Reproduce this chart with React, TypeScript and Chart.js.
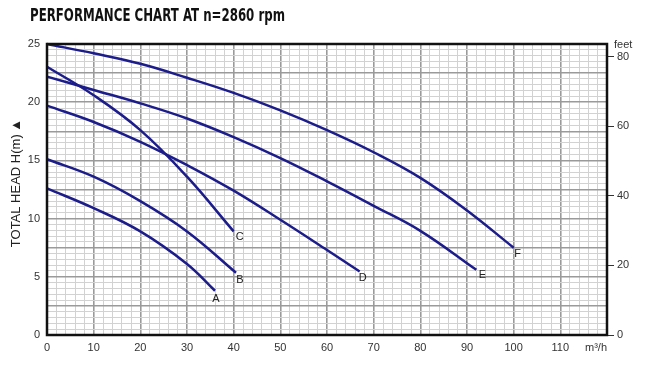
import React, { useEffect, useRef } from "react";
import { Chart, registerables } from "chart.js";

Chart.register(...registerables);

// ---- data ----
const CURVE_NAMES = ["A", "B", "C", "D", "E", "F"];
const A_FLOW = [0, 10, 20, 30, 36];
const A_HEAD = [12.6, 10.9, 8.9, 6.1, 3.8];
const B_FLOW = [0, 10, 20, 30, 40.5];
const B_HEAD = [15.1, 13.6, 11.5, 8.9, 5.35];
const C_FLOW = [0, 10, 20, 30, 40];
const C_HEAD = [23.05, 20.6, 17.6, 13.6, 8.9];
const D_FLOW = [0, 10, 20, 30, 40, 50, 60, 67];
const D_HEAD = [19.7, 18.3, 16.6, 14.6, 12.4, 9.9, 7.3, 5.45];
const E_FLOW = [0, 10, 20, 30, 40, 50, 60, 70, 80, 92];
const E_HEAD = [22.2, 21.05, 19.9, 18.6, 17.0, 15.2, 13.2, 11.1, 8.95, 5.6];
const F_FLOW = [0, 10, 20, 30, 40, 50, 60, 70, 80, 90, 100];
const F_HEAD = [25, 24.2, 23.3, 22.1, 20.8, 19.3, 17.6, 15.7, 13.5, 10.7, 7.5];

const X_LABELS = [0, 10, 20, 30, 40, 50, 60, 70, 80, 90, 100, 110];
const Y_LABELS = [0, 5, 10, 15, 20, 25];
const FEET_LABELS = [0, 20, 40, 60, 80];

const TITLE = "PERFORMANCE CHART AT n=2860 rpm";
const Y_TITLE = "TOTAL HEAD H(m)\u2009\u25B2";
const FEET_TITLE = "feet";
const X_UNIT = "m\u00B3/h";

// ---- styles ----
const LINE_COLOR = "#1c1c8a";
const LABEL_OFFSETS = [
  [1, 8],
  [4, 7],
  [6, 6],
  [3, 6],
  [6, 5],
  [4, 6],
];

const FLOWS = [A_FLOW, B_FLOW, C_FLOW, D_FLOW, E_FLOW, F_FLOW];
const HEADS = [A_HEAD, B_HEAD, C_HEAD, D_HEAD, E_HEAD, F_HEAD];

const isMult = (v: number, s: number) => Math.abs(v / s - Math.round(v / s)) < 1e-6;

const decor = {
  id: "decor",
  beforeDraw(chart: any) {
    const ctx = chart.ctx;
    ctx.save();
    ctx.fillStyle = "#fff";
    ctx.fillRect(0, 0, chart.width, chart.height);
    ctx.restore();
  },
  afterDraw(chart: any) {
    const ctx = chart.ctx;
    const a = chart.chartArea;
    const xs = chart.scales.x;
    const ys = chart.scales.y;
    ctx.save();
    // border
    ctx.strokeStyle = "#111";
    ctx.lineWidth = 2.5;
    ctx.strokeRect(a.left, a.top, a.right - a.left, a.bottom - a.top);

    // title
    ctx.font = "bold 17px 'DejaVu Sans Condensed', 'Liberation Sans', Arial, sans-serif";
    ctx.fillStyle = "#111";
    ctx.textBaseline = "middle";
    ctx.textAlign = "left";
    const w = ctx.measureText(TITLE).width;
    const target = 255;
    ctx.save();
    ctx.translate(30, 17);
    ctx.scale(target / w, 1);
    ctx.fillText(TITLE, 0, 0);
    ctx.restore();

    // y title
    ctx.save();
    ctx.font = "13px 'Liberation Sans', Arial, sans-serif";
    ctx.fillStyle = "#222";
    ctx.translate(16, 183);
    ctx.rotate(-Math.PI / 2);
    ctx.textAlign = "center";
    ctx.textBaseline = "middle";
    ctx.fillText(Y_TITLE, 0, 0);
    ctx.restore();

    // units
    ctx.font = "11px 'Liberation Sans', Arial, sans-serif";
    ctx.fillStyle = "#333";
    ctx.textAlign = "left";
    ctx.textBaseline = "middle";
    ctx.fillText(FEET_TITLE, 614, 45);
    ctx.textAlign = "center";
    ctx.fillText(X_UNIT, 596, 348);

    // curve labels
    ctx.font = "11px 'Liberation Sans', Arial, sans-serif";
    ctx.fillStyle = "#222";
    ctx.textAlign = "center";
    ctx.textBaseline = "middle";
    CURVE_NAMES.forEach((n, i) => {
      const f = FLOWS[i];
      const h = HEADS[i];
      const px = xs.getPixelForValue(f[f.length - 1]);
      const py = ys.getPixelForValue(h[h.length - 1]);
      ctx.fillText(n, px + LABEL_OFFSETS[i][0], py + LABEL_OFFSETS[i][1]);
    });
    ctx.restore();
  },
};

export default function App() {
  const ref = useRef<HTMLCanvasElement | null>(null);
  useEffect(() => {
    if (!ref.current) return;
    const tickFont = { family: "'Liberation Sans', Arial, sans-serif", size: 11 };
    const chart = new Chart(ref.current, {
      type: "line",
      data: {
        datasets: CURVE_NAMES.map((n, i) => ({
          label: n,
          data: FLOWS[i].map((x, j) => ({ x, y: HEADS[i][j] })),
          borderColor: LINE_COLOR,
          borderWidth: 2.5,
          pointRadius: 0,
          fill: false,
          tension: 0.4,
          clip: false as any,
        })),
      },
      options: {
        animation: false,
        responsive: false,
        events: [],
        layout: { padding: { top: 44, left: 0, right: 0, bottom: 0 } },
        plugins: { legend: { display: false }, tooltip: { enabled: false }, title: { display: false } },
        scales: {
          x: {
            type: "linear",
            min: 0,
            max: 120,
            afterFit: (s: any) => {
              s.height = 32;
            },
            border: { display: false },
            grid: {
              drawTicks: false,
              color: (c: any) => (isMult(c.tick.value, 10) ? "#9a9a9a" : "#d2d2d2"),
              lineWidth: (c: any) => (isMult(c.tick.value, 10) ? 1.6 : 1),
            },
            ticks: {
              stepSize: 2,
              autoSkip: false,
              maxRotation: 0,
              maxTicksLimit: 200,
              padding: 6,
              color: "#333",
              font: tickFont,
              callback: (v: any) => (X_LABELS.includes(Number(v)) ? String(v) : ""),
            },
          },
          y: {
            type: "linear",
            position: "left",
            min: 0,
            max: 25,
            afterFit: (s: any) => {
              s.width = 47;
            },
            border: { display: false },
            grid: {
              drawTicks: false,
              color: (c: any) => (isMult(c.tick.value, 2.5) ? "#9a9a9a" : "#d2d2d2"),
              lineWidth: (c: any) => (isMult(c.tick.value, 2.5) ? 1.6 : 1),
            },
            ticks: {
              stepSize: 0.5,
              autoSkip: false,
              maxTicksLimit: 200,
              padding: 7,
              color: "#333",
              font: tickFont,
              callback: (v: any) =>
                Y_LABELS.some((l) => Math.abs(Number(v) - l) < 1e-6) ? String(Math.round(Number(v))) : "",
            },
          },
          y2: {
            type: "linear",
            position: "right",
            min: 0,
            max: 83.7,
            afterFit: (s: any) => {
              s.width = 43;
            },
            afterBuildTicks: (s: any) => {
              s.ticks = s.ticks.filter((t: any) => FEET_LABELS.includes(t.value));
            },
            border: { display: false },
            grid: {
              drawOnChartArea: false,
              drawTicks: true,
              tickLength: 7,
              tickColor: "#333",
              tickWidth: 1,
            },
            ticks: {
              stepSize: 20,
              autoSkip: false,
              padding: 3,
              color: "#333",
              font: tickFont,
            },
          },
        },
      } as any,
      plugins: [decor],
    });
    return () => chart.destroy();
  }, []);
  return (
    <div style={{ position: "absolute", left: 0, top: 0, width: 650, height: 367 }}>
      <canvas ref={ref} width={650} height={367} style={{ width: 650, height: 367, display: "block" }} />
    </div>
  );
}
